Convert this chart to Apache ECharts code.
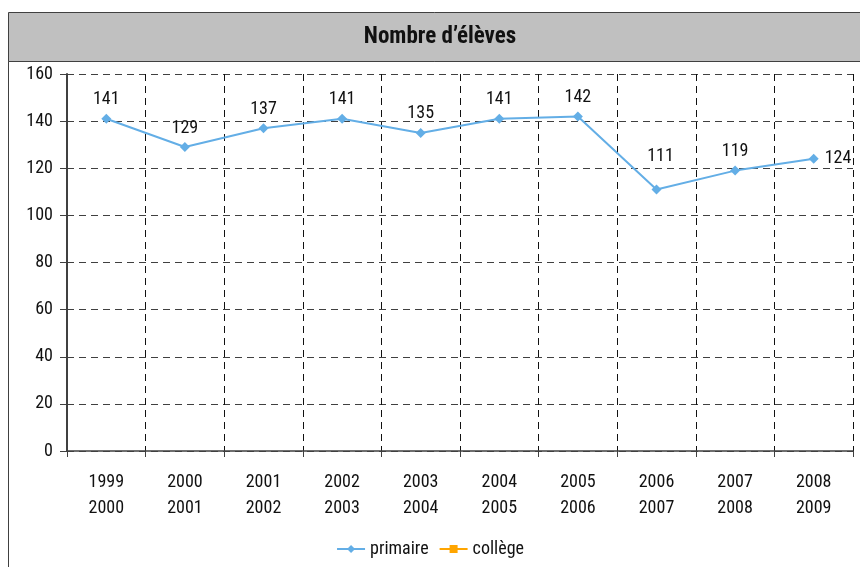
<!DOCTYPE html>
<html><head><meta charset="utf-8">
<script src="https://cdn.jsdelivr.net/npm/echarts@6/dist/echarts.min.js"></script>
<style>html,body{margin:0;padding:0;background:#fff}#c{width:860px;height:567px}</style>
</head><body><div id="c"></div>
<script>
var categories = ['1999\n2000','2000\n2001','2001\n2002','2002\n2003','2003\n2004','2004\n2005','2005\n2006','2006\n2007','2007\n2008','2008\n2009'];
var primaire = [141,129,137,141,135,141,142,111,119,124];
var college = [null,null,null,null,null,null,null,null,null,null];
var yTicks = {min:0,max:160,interval:20};
var FONT = '"Liberation Sans Narrow", "Roboto Condensed", "Liberation Sans", sans-serif';
var chart = echarts.init(document.getElementById('c'));
chart.setOption({
  animation:false,
  textStyle:{fontFamily:FONT},
  graphic:[
    {type:'rect',shape:{x:8.5,y:61.5,width:900,height:600},style:{fill:'#fff',stroke:'#404040',lineWidth:1},z:-10,silent:true},
    {type:'rect',shape:{x:8.5,y:12.5,width:900,height:49},style:{fill:'#c0c0c0',stroke:'#404040',lineWidth:1},z:-10,silent:true},
    {type:'text',x:440,y:37,style:{text:'Nombre d\u2019\u00e9l\u00e8ves',font:'bold 23px '+FONT,fill:'#111',align:'center',verticalAlign:'middle'},silent:true}
  ],
  grid:{left:67,top:74,right:7,bottom:116},
  legend:{bottom:4,left:'center',itemWidth:28,itemHeight:10,itemGap:10,
    textStyle:{fontFamily:FONT,fontSize:18,color:'#111'},
    data:['primaire','collège']},
  xAxis:{type:'category',data:categories,boundaryGap:true,
    axisLine:{lineStyle:{color:'#404040',width:1.5}},
    axisTick:{show:true,length:6,lineStyle:{color:'#404040'}},
    axisLabel:{fontFamily:FONT,fontSize:18,color:'#111',lineHeight:26,margin:18},
    splitLine:{show:true,lineStyle:{color:'#111',type:[7,5],width:1}}
  },
  yAxis:{type:'value',min:yTicks.min,max:yTicks.max,interval:yTicks.interval,
    axisLine:{show:true,lineStyle:{color:'#404040',width:2}},
    axisTick:{show:true,length:7,inside:false,lineStyle:{color:'#404040'}},
    axisLabel:{fontFamily:FONT,fontSize:18,color:'#111',margin:14},
    splitLine:{show:true,lineStyle:{color:'#404040',type:[7,5],width:1}}
  },
  series:[
    {name:'primaire',type:'line',data:primaire,color:'#63aee6',symbol:'diamond',symbolSize:10,
      lineStyle:{width:2,color:'#63aee6'},itemStyle:{color:'#63aee6'},
      label:{show:true,position:'top',distance:5,fontFamily:FONT,fontSize:18,color:'#111',
        formatter:function(p){return p.value;}},
      labelLayout:function(p){
        if(p.dataIndex===9){return {x:p.rect.x+p.rect.width+6,y:p.rect.y+p.rect.height/2,align:'left',verticalAlign:'middle'};}
        if(p.dataIndex===7){return {dy:-14,dx:4};}
        return {};
      }},
    {name:'collège',type:'line',data:college,color:'#ffa500',symbol:'rect',symbolSize:8,
      lineStyle:{width:2,color:'#ffa500'},itemStyle:{color:'#ffa500'}}
  ]
});
</script></body></html>
